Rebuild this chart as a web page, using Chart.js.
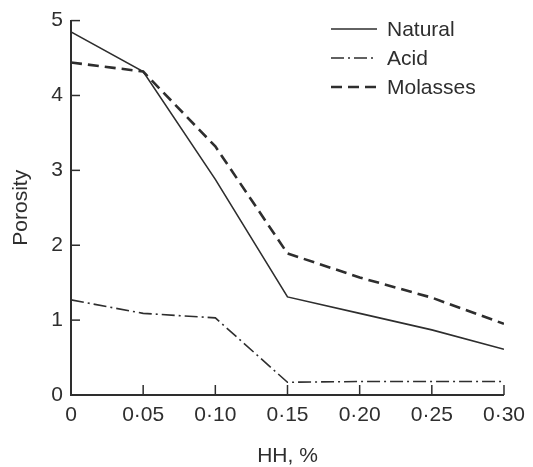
<!DOCTYPE html>
<html>
<head>
<meta charset="utf-8">
<script src="https://cdn.jsdelivr.net/npm/chart.js@4/dist/chart.umd.min.js"></script>
<style>
  html,body{margin:0;padding:0;background:#fff;}
  #wrap{width:533px;height:467px;}
</style>
</head>
<body>
<div id="wrap"><canvas id="chart" width="533" height="467"></canvas></div>
<script>
// HH content, %
const hhLevels = [0, 0.05, 0.10, 0.15, 0.20, 0.25, 0.30];
const xTickLabels = ['0', '0·05', '0·10', '0·15', '0·20', '0·25', '0·30'];
const yTickLabels = ['0', '1', '2', '3', '4', '5'];

const seriesNames = ['Natural', 'Acid', 'Molasses'];
const natural  = [4.85, 4.32, 2.88, 1.31, 1.09, 0.87, 0.61];
const acid     = [1.27, 1.09, 1.03, 0.17, 0.18, 0.18, 0.18];
const molasses = [4.44, 4.32, 3.32, 1.89, 1.57, 1.30, 0.95];

const ink = '#2e2e2e';
const fontFamily = '"Liberation Sans", Arial, sans-serif';

const toPoints = vals => vals.map((v, i) => ({x: hhLevels[i], y: v}));

function ds(label, vals, dash, width){
  return {
    label,
    data: toPoints(vals),
    borderColor: ink,
    borderWidth: width,
    borderDash: dash,
    pointRadius: 0,
    tension: 0,
    fill: false
  };
}

// inward tick marks, like the printed figure
const innerTicks = {
  id: 'innerTicks',
  afterDraw(chart){
    const {ctx, scales:{x, y}, chartArea} = chart;
    ctx.save();
    ctx.strokeStyle = ink;
    ctx.lineWidth = 1.5;
    hhLevels.slice(1).forEach(v => {
      const px = x.getPixelForValue(v);
      ctx.beginPath(); ctx.moveTo(px, chartArea.bottom); ctx.lineTo(px, chartArea.bottom - 10); ctx.stroke();
    });
    yTickLabels.slice(1).forEach((t, i) => {
      const py = y.getPixelForValue(i + 1);
      ctx.beginPath(); ctx.moveTo(chartArea.left, py); ctx.lineTo(chartArea.left + 9, py); ctx.stroke();
    });
    ctx.restore();
  }
};

// key in the top right corner
const keyBox = {
  id: 'keyBox',
  afterDraw(chart){
    const ctx = chart.ctx;
    ctx.save();
    chart.data.datasets.forEach((d, i) => {
      const yy = 29 + i * 29;
      ctx.strokeStyle = d.borderColor;
      ctx.lineWidth = d.borderWidth;
      ctx.setLineDash(d.borderDash || []);
      ctx.beginPath(); ctx.moveTo(331, yy); ctx.lineTo(377, yy); ctx.stroke();
      ctx.setLineDash([]);
      ctx.fillStyle = ink;
      ctx.font = '21px ' + fontFamily;
      ctx.textBaseline = 'middle';
      ctx.fillText(d.label, 387, yy + 1);
    });
    ctx.restore();
  }
};

new Chart(document.getElementById('chart'), {
  type: 'line',
  data: {
    datasets: [
      ds(seriesNames[0], natural, [], 1.6),
      ds(seriesNames[1], acid, [13, 4, 2, 4], 1.6),
      ds(seriesNames[2], molasses, [11, 6], 2.6)
    ]
  },
  options: {
    responsive: false,
    animation: false,
    devicePixelRatio: 1,
    layout: {padding: {top: 20, right: 24, bottom: 0, left: 0}},
    plugins: {legend: {display: false}, tooltip: {enabled: false}},
    scales: {
      x: {
        type: 'linear',
        min: 0, max: 0.30,
        afterFit: s => { s.height = 72; },
        afterBuildTicks: s => { s.ticks = hhLevels.map(v => ({value: v})); },
        ticks: {
          color: ink,
          padding: 8,
          font: {family: fontFamily, size: 21},
          callback: (v, i) => xTickLabels[i]
        },
        grid: {display: false, drawTicks: false},
        border: {display: true, color: ink, width: 2},
        title: {
          display: true, text: 'HH, %', color: ink,
          font: {family: fontFamily, size: 21, lineHeight: 1},
          padding: {top: 0, bottom: 0}
        }
      },
      y: {
        min: 0, max: 5,
        afterFit: s => { s.width = 71; },
        afterBuildTicks: s => { s.ticks = yTickLabels.map((t, i) => ({value: i})); },
        ticks: {
          color: ink,
          padding: 8,
          font: {family: fontFamily, size: 21},
          callback: (v, i) => yTickLabels[i]
        },
        grid: {display: false, drawTicks: false},
        border: {display: true, color: ink, width: 2},
        title: {
          display: true, text: 'Porosity', color: ink,
          font: {family: fontFamily, size: 21, lineHeight: 1},
          padding: {top: 11, bottom: 0}
        }
      }
    }
  },
  plugins: [innerTicks, keyBox]
});
</script>
</body>
</html>
